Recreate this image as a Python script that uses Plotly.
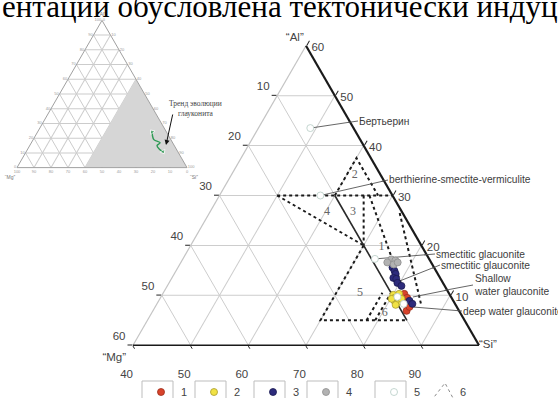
import plotly.graph_objects as go

# ---------------- sample compositions (Al, Si, Mg) ----------------
red_al = [10.3, 9.5, 8.9, 6.9, 7.7]
red_si = [81.9, 82.8, 82.3, 84.0, 84.1]
red_mg = [7.8, 7.7, 8.8, 9.1, 8.2]

yel_al = [10.1, 9.5, 10.3, 8.9, 8.7, 9.3, 8.1, 9.3]
yel_si = [80.1, 80.6, 81.0, 80.9, 81.7, 81.9, 81.5, 80.2]
yel_mg = [9.8, 9.9, 8.7, 10.2, 9.6, 8.8, 10.4, 10.5]

nav_al = [15.6, 14.9, 14.3, 13.5, 13.3, 12.5, 11.9, 8.9, 8.3]
nav_si = [77.2, 77.9, 78.4, 78.4, 79.0, 79.6, 80.6, 83.5, 84.3]
nav_mg = [7.2, 7.2, 7.3, 8.1, 7.7, 7.9, 7.5, 7.6, 7.4]

gry_al = [17.2, 17.0, 16.6, 16.2, 16.6]
gry_si = [76.2, 77.0, 75.8, 77.1, 77.6]
gry_mg = [6.6, 6.0, 7.6, 6.7, 5.8]

# reference minerals (open circles)
ref_al = [43.5, 30.0, 17.3, 9.7, 8.3]
ref_si = [49.0, 57.5, 73.3, 81.0, 82.8]
ref_mg = [7.5, 12.5, 9.4, 9.3, 8.9]

# ---------------- compositional fields ----------------
field_lines = [
    # Al, Si, Mg vertices and line style
    ([30, 30], [50, 70], [20, 0], "dash"),                     # Al = 30 boundary
    ([30, 20], [50, 70], [20, 10], "dash"),                    # field 4
    ([30, 37.5, 30], [60, 60, 67.5], [10, 2.5, 2.5], "dash"),  # field 2
    ([30, 20], [65, 70], [5, 10], "dash"),                     # field 3
    ([20, 5, 5], [70, 70, 85], [10, 25, 10], "dash"),          # field 5
    ([30, 5], [60, 85], [10, 10], "solid"),                    # Mg = 10
    ([30, 11.5], [66, 81], [4, 7.5], "dash"),                  # field 1
    ([26.5, 8], [73, 86], [0.5, 6], "dash"),                   # field 1
    ([5, 10.5], [78, 78], [17, 11.5], "dash"),                 # field 6
    ([5, 11], [79.5, 79.5], [15.5, 9.5], "dash"),              # field 6
]
field_names = ["1", "2", "3", "4", "5", "6"]
field_name_al = [19.6, 34.1, 26.7, 26.7, 10.5, 6.5]
field_name_si = [73.3, 61.4, 64.8, 60.3, 74.1, 80.4]
field_name_mg = [7.1, 4.5, 8.5, 13.0, 15.4, 13.1]

# ---------------- labelled compositions ----------------
labels = ["Бертьерин", "berthierine-smectite-vermiculite", "smectitic glacuonite",
          "smectitic glauconite", "Shallow<br>water glauconite", "deep water glauconite"]
lead_al = [43.5, 30.0, 17.3, 12.9, 9.67, 7.67]
lead_si = [49.0, 57.5, 73.3, 79.85, 83.7, 84.7]
lead_mg = [7.5, 12.5, 9.4, 7.25, 6.63, 7.63]
# direction of each leader (towards the label, beyond the Mg = 0 side)
dir_al = [44.93, 33.1, 18.29, 16.08, 12.08, 6.87]
dir_si = [56.56, 67.67, 83.22, 85.19, 92.9, 93.62]
dir_mg = [-1.49, -0.77, -1.51, -1.27, -4.98, -0.49]

# label placement on the page (px): leader end at the Mg = 0 side, text start
label_tip = [(348.4, 122.4), (381.3, 181.4), (424.2, 254.9),
             (432.0, 268.2), (444.4, 290.4), (457.1, 310.6)]
label_txt = [(358, 121), (388, 180), (435, 254), (440, 265), (473, 285), (462, 311)]

# ---------------- inset: evolution trend ----------------
trend_al = [24.3, 19.0, 16.9, 14.9, 12.5, 10.8]
trend_si = [67.3, 71.0, 75.7, 74.9, 77.5, 80.5]
trend_mg = [8.4, 10.0, 7.4, 10.2, 10.0, 8.7]

# axis ticks
main_a_ticks = [0, 10, 20, 30, 40, 50]
main_a_text = ["60", "50", "40", "30", "20", "10"]
main_b_ticks = [60, 50, 40, 30, 20, 10]
main_b_text = ["40", "50", "60", "70", "80", "90"]
main_c_ticks = [40, 50, 60, 70, 80, 90]
main_c_text = ["60", "50", "40", "30", "20", "10"]

# corner labels of the main diagram
corner_text = ["“Al”", "“Mg”", "“Si”"]
corner_al = [60, 0, 0]
corner_si = [40, 40, 100]
corner_mg = [0, 60, 0]
corner_pos = ["top left", "bottom left", "middle right"]
corner_gap = [2, 9.6, 0]   # spacing between corner and its label

# legend symbol centres (px) along the bottom row
legend_x = [161, 214, 273, 326, 394]
LEGEND_Y = 392

W, H = 558, 398
SANS = "Liberation Sans, Arial, sans-serif"
SERIF = "Liberation Serif, Times New Roman, serif"
TXT = "#3c3c3c"
NB = "&#160;"

fig = go.Figure()

# ---- inset triangle ----
fig.add_trace(go.Scatterternary(
    subplot="ternary", a=[0, 60, 0, 0], b=[60, 0, 0, 60], c=[40, 40, 100, 40],
    mode="lines", fill="toself", fillcolor="#d6d6d6", line=dict(width=0),
    hoverinfo="skip", showlegend=False))
fig.add_trace(go.Scatterternary(
    subplot="ternary", a=trend_al, b=trend_mg, c=trend_si, mode="lines+markers",
    line=dict(color="#2f9a55", width=1.4, shape="spline"),
    marker=dict(size=[5, 0, 0, 0, 0, 5], symbol="triangle-up", color="#2f9a55",
                angle=[-40, 0, 0, 0, 0, 150]),
    hoverinfo="skip", showlegend=False))

# ---- fields ----
for fa, fs, fm, st in field_lines:
    solid = st == "solid"
    fig.add_trace(go.Scatterternary(
        subplot="ternary2", a=fa, b=fm, c=fs, mode="lines",
        line=dict(color="#2a2a2a" if solid else "#1a1a1a", width=1.6 if solid else 2.0,
                  dash="solid" if solid else "3px,3px"),
        hoverinfo="skip", showlegend=False))

fig.add_trace(go.Scatterternary(
    subplot="ternary2", a=field_name_al, b=field_name_mg, c=field_name_si,
    mode="text", text=field_names, textfont=dict(family=SERIF, size=12, color="#666"),
    hoverinfo="skip", showlegend=False))

# ---- corner labels ----
fig.add_trace(go.Scatterternary(
    subplot="ternary2", a=corner_al, b=corner_mg, c=corner_si, mode="markers+text",
    text=corner_text, textposition=corner_pos, cliponaxis=False,
    marker=dict(size=corner_gap, opacity=0),
    textfont=dict(family=SANS, size=11.5, color="#444"),
    hoverinfo="skip", showlegend=False))

# ---- leaders (inside the triangle) ----
for i in range(len(labels)):
    fig.add_trace(go.Scatterternary(
        subplot="ternary2", a=[lead_al[i], dir_al[i]], b=[lead_mg[i], dir_mg[i]],
        c=[lead_si[i], dir_si[i]], mode="lines", line=dict(color="#555", width=0.9),
        hoverinfo="skip", showlegend=False))

# ---- samples ----
groups = [
    ("1", red_al, red_si, red_mg, "#d8432b", "#9c2e1c"),
    ("2", yel_al, yel_si, yel_mg, "#f1e244", "#a89c30"),
    ("3", nav_al, nav_si, nav_mg, "#2d2b7c", "#1b1a50"),
    ("4", gry_al, gry_si, gry_mg, "#b2b2b2", "#8e8e8e"),
    ("5", ref_al, ref_si, ref_mg, "#ffffff", "#b5cbc4"),
]
for k, (name, ga, gs, gm, fc, lc) in enumerate(groups):
    fig.add_trace(go.Scatterternary(
        subplot="ternary2", a=ga, b=gm, c=gs, mode="markers", name=name,
        legend="legend" if k == 0 else f"legend{k + 1}", showlegend=True,
        marker=dict(size=7, color=fc, line=dict(color=lc, width=0.8)),
        cliponaxis=False))

inset_axis = dict(min=0, dtick=10, ticks="", showline=True, linecolor="#a0a0a0",
                  linewidth=1, gridcolor="#cccccc", gridwidth=0.8, layer="above traces",
                  tickfont=dict(size=4, color="#999", family=SANS))


def main_axis(tv, tt, lc, lw, mn, tl=5):
    return dict(min=mn, tickmode="array", tickvals=tv, ticktext=tt, ticks="outside",
                ticklen=tl, tickwidth=1.4, tickcolor="#222", showline=True,
                linecolor=lc, linewidth=lw, gridcolor="#cdcdcd", gridwidth=1.2,
                tickfont=dict(size=11.5, color="#444", family=SANS), title=dict(text=""))


annotations = [
    dict(text="ентации обусловлена тектонически индуц", x=0, y=1 - 26 / H,
         xref="paper", yref="paper", xanchor="left", yanchor="bottom",
         showarrow=False, font=dict(family=SERIF, size=31, color="black")),
    dict(text="Тренд эволюции<br>глауконита", x=195 / W, y=1 - 97 / H,
         xref="paper", yref="paper", showarrow=False,
         font=dict(family=SERIF, size=7.5, color="#444")),
    dict(text="", x=166 / W, y=1 - 145 / H, ax=7, ay=-32, xref="paper",
         yref="paper", showarrow=True, arrowhead=2, arrowsize=1, arrowwidth=1,
         arrowcolor="#111"),
    dict(text="6", x=458 / W, y=1 - LEGEND_Y / H, xref="paper", yref="paper",
         xanchor="left", yanchor="middle", showarrow=False,
         font=dict(size=11, color="#444", family=SANS)),
]
for (tx, ty), (lx, ly), lab in zip(label_tip, label_txt, labels):
    annotations.append(dict(
        text=lab, x=tx / W, y=1 - ty / H, ax=lx - tx, ay=ly - ty,
        xref="paper", yref="paper", xanchor="left", yanchor="middle", align="left",
        showarrow=True, arrowhead=0, arrowwidth=0.9, arrowcolor="#555", standoff=0,
        borderpad=0, font=dict(family=SANS, size=10.2, color=TXT)))

# light boxes framing the legend symbols, and the field-outline key
shapes = []
for lx in legend_x:
    shapes.append(dict(type="rect", xref="paper", yref="paper",
                       x0=(lx - 19) / W, x1=(lx + 12) / W,
                       y0=1 - 404 / H, y1=1 - 381 / H,
                       line=dict(color="#bdbdbd", width=1), fillcolor="rgba(0,0,0,0)",
                       layer="below"))
shapes.append(dict(type="path", xref="paper", yref="paper",
                   path=f"M {431 / W},{1 - 401 / H} L {445 / W},{1 - 383 / H} "
                        f"L {454 / W},{1 - 400 / H}",
                   line=dict(color="#8a8a8a", width=1, dash="dot")))

legends = {}
for k, lx in enumerate(legend_x):
    legends["legend" if k == 0 else f"legend{k + 1}"] = dict(
        x=(lx - 20) / W, y=1 - LEGEND_Y / H, xanchor="left", yanchor="middle",
        orientation="h", bgcolor="rgba(0,0,0,0)", itemwidth=30, visible=True,
        font=dict(size=11, color="#444", family=SANS))

fig.update_layout(
    template="none", showlegend=True,
    width=W, height=H, margin=dict(l=0, r=0, t=0, b=0, autoexpand=False),
    paper_bgcolor="white", plot_bgcolor="white",
    font=dict(family=SANS, color="#444"),
    ternary=dict(
        domain=dict(x=[17 / W, 187 / W], y=[1 - 168 / H, 1 - 20 / H]),
        sum=100, bgcolor="white",
        aaxis=dict(inset_axis, title=dict(text="“Al”", font=dict(size=5, color="#777"))),
        baxis=dict(inset_axis, title=dict(text="“Mg”", font=dict(size=5, color="#777"))),
        caxis=dict(inset_axis, title=dict(text="“Si”", font=dict(size=5, color="#777"))),
    ),
    ternary2=dict(
        domain=dict(x=[133 / W, 479 / W], y=[1 - 345.3 / H, 1 - 45.7 / H]),
        sum=100, bgcolor="rgba(0,0,0,0)",
        aaxis=main_axis(main_a_ticks, [t + "<br>" + NB for t in main_a_text],
                        "#c4c4c4", 1.2, 0),
        baxis=main_axis(main_b_ticks, ["<br>" + t + NB * 5 for t in main_b_text],
                        "#1a1a1a", 1.6, 0, tl=3),
        caxis=main_axis(main_c_ticks, [NB + "<br>" + t for t in main_c_text],
                        "#1a1a1a", 2.2, 40),
    ),
    annotations=annotations,
    shapes=shapes,
    **legends,
)

fig.write_html("out.html")
